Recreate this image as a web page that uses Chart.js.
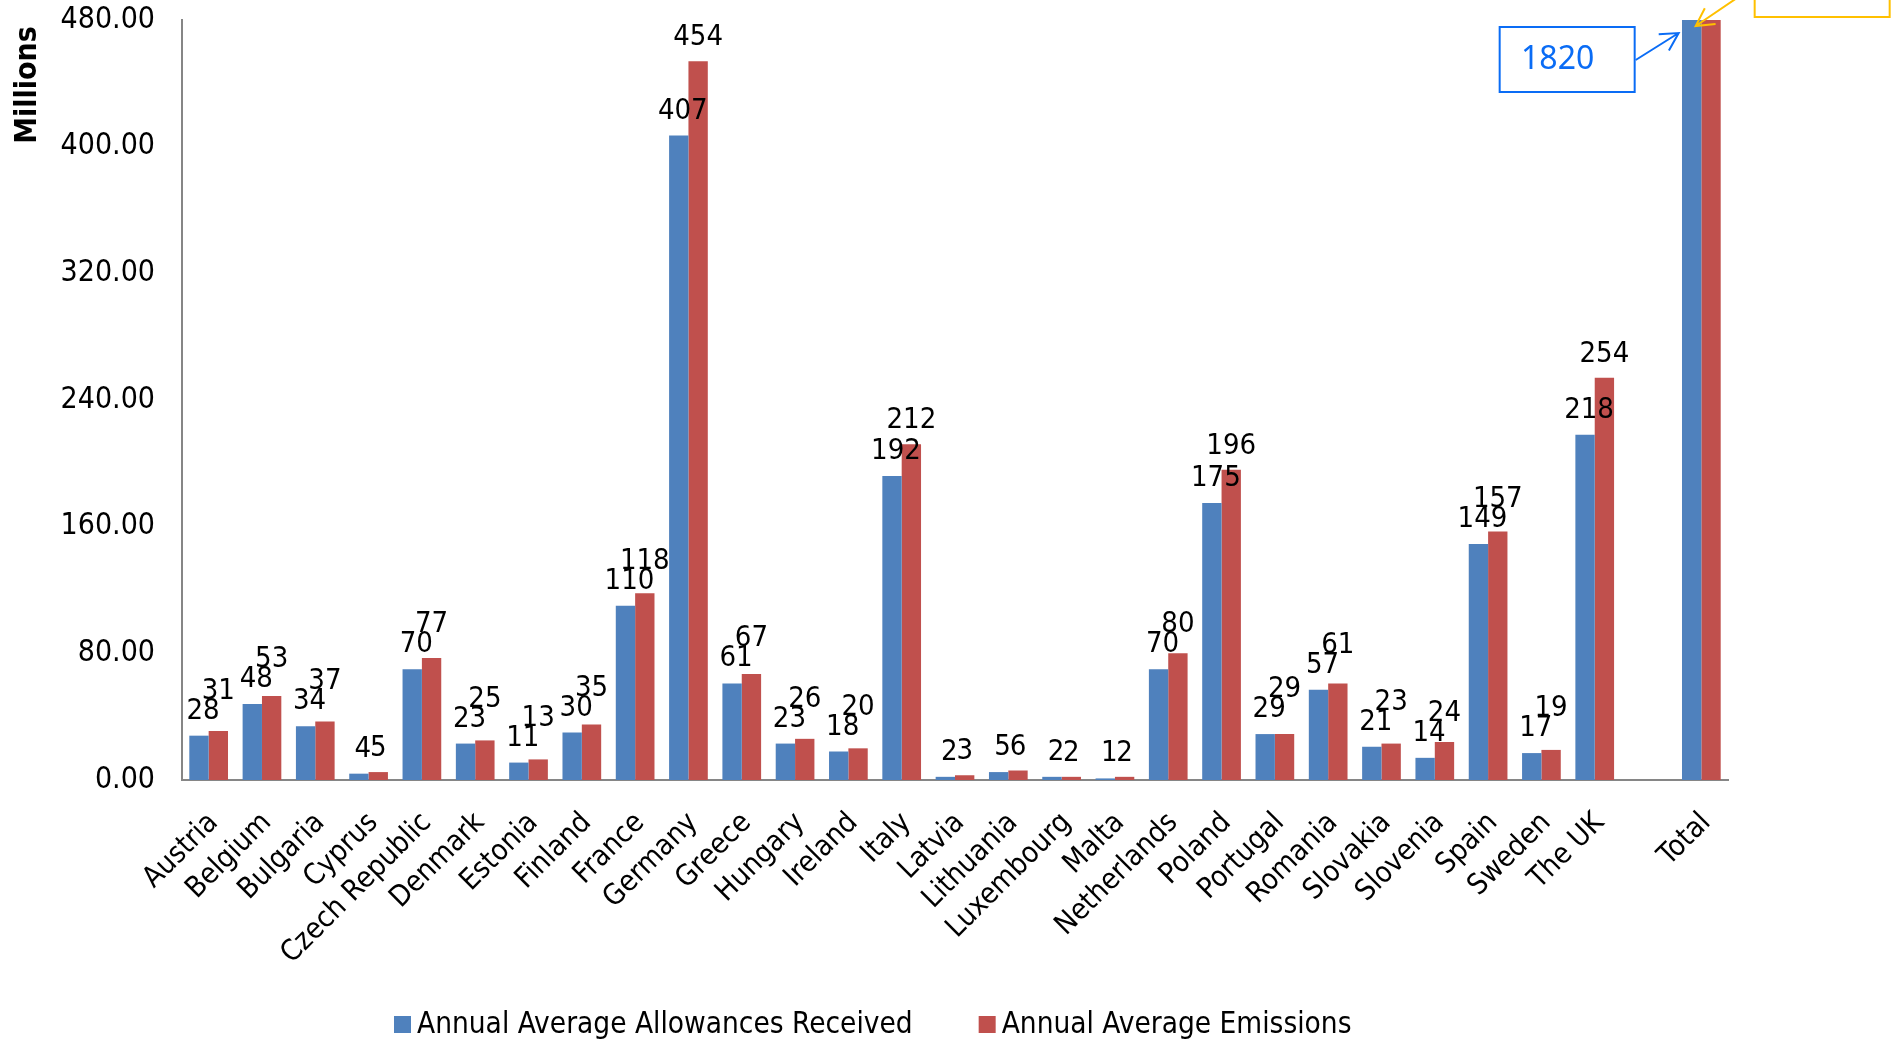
<!DOCTYPE html>
<html>
<head>
<meta charset="utf-8">
<script src="https://cdn.jsdelivr.net/npm/chart.js@4.4.1/dist/chart.umd.min.js"></script>
<style>
  html, body { margin: 0; padding: 0; background: #ffffff; overflow: hidden; }
  canvas { display: block; }
</style>
</head>
<body>
<canvas id="chart" width="1897" height="1039"></canvas>
<script>
// Member states (one empty slot separates the countries from the total)
const countries = ['Austria', 'Belgium', 'Bulgaria', 'Cyprus', 'Czech Republic', 'Denmark', 'Estonia',
  'Finland', 'France', 'Germany', 'Greece', 'Hungary', 'Ireland', 'Italy', 'Latvia', 'Lithuania',
  'Luxembourg', 'Malta', 'Netherlands', 'Poland', 'Portugal', 'Romania', 'Slovakia', 'Slovenia',
  'Spain', 'Sweden', 'The UK', '', 'Total'];

// Annual averages, millions
const allowances = [28, 48, 34, 4, 70, 23, 11, 30, 110, 407, 61, 23, 18, 192, 2, 5, 2, 1, 70, 175,
  29, 57, 21, 14, 149, 17, 218, null, 1820];
const emissions = [31, 53, 37, 5, 77, 25, 13, 35, 118, 454, 67, 26, 20, 212, 3, 6, 2, 2, 80, 196,
  29, 61, 23, 24, 157, 19, 254, null, 2029];

const seriesNames = ['Annual Average Allowances Received', 'Annual Average Emissions'];
const yAxisTitle = 'Millions';
const yMin = 0;
const yMax = 480;
const yStep = 80;

const FONT = '"DejaVu Sans Condensed", "DejaVu Sans", sans-serif';
const BLUE = '#4F81BD';
const RED = '#C0504D';
const AXIS = '#868686';

function arrow(ctx, x1, y1, x2, y2, head) {
  const a = Math.atan2(y2 - y1, x2 - x1);
  ctx.beginPath();
  ctx.moveTo(x1, y1);
  ctx.lineTo(x2, y2);
  ctx.moveTo(x2 - head * Math.cos(a - 0.5), y2 - head * Math.sin(a - 0.5));
  ctx.lineTo(x2, y2);
  ctx.lineTo(x2 - head * Math.cos(a + 0.5), y2 - head * Math.sin(a + 0.5));
  ctx.stroke();
}

const decorations = {
  id: 'decorations',
  afterDatasetsDraw(chart) {
    const ctx = chart.ctx;
    const area = chart.chartArea;
    const yScale = chart.scales.y;
    const metaA = chart.getDatasetMeta(0);
    const metaE = chart.getDatasetMeta(1);

    // value labels above each pair of bars
    ctx.save();
    ctx.font = '29px ' + FONT;
    ctx.fillStyle = '#000000';
    ctx.textAlign = 'center';
    ctx.textBaseline = 'alphabetic';
    allowances.forEach((a, i) => {
      const e = emissions[i];
      if (a == null || a > yScale.max) return;
      const ba = metaA.data[i];
      const be = metaE.data[i];
      const ta = String(a), te = String(e);
      const ax = ba.x + 4, ay = ba.y - 17;
      let ey = be.y - 16;
      const wa = ctx.measureText(ta).width, we = ctx.measureText(te).width;
      const overlap = (ax + wa / 2) - (be.x - we / 2) > 2;
      if (overlap && ey > ay - 20) ey = ay - 20;
      ctx.fillText(ta, ax, ay);
      ctx.fillText(te, be.x, ey);
    });
    ctx.restore();

    // callouts on the total column
    const ti = countries.length - 1;
    const bar = metaA.data[ti];
    const bx = bar.x;
    const top = area.top;
    ctx.save();
    ctx.lineWidth = 2;
    ctx.strokeStyle = '#0A6CF5';
    ctx.strokeRect(bx - 192, top + 7, 135, 65);
    ctx.fillStyle = '#0A6CF5';
    ctx.font = '32px "Noto Sans", sans-serif';
    ctx.textAlign = 'center';
    ctx.textBaseline = 'middle';
    ctx.fillText(String(allowances[ti]), bx - 134, top + 40);
    arrow(ctx, bx - 56, top + 40, bx - 13, top + 13, 20);

    ctx.strokeStyle = '#FFC000';
    ctx.strokeRect(bx + 63, top - 80, 135, 77);
    arrow(ctx, bx + 60, top - 32, bx + 4, top + 6, 20);
    ctx.restore();

    // axis title
    ctx.save();
    ctx.translate(28, 85);
    ctx.rotate(-Math.PI / 2);
    ctx.font = 'bold 30px ' + FONT;
    ctx.fillStyle = '#000000';
    ctx.textAlign = 'center';
    ctx.textBaseline = 'middle';
    ctx.fillText(yAxisTitle, 0, 0);
    ctx.restore();

    // legend
    ctx.save();
    ctx.font = '29.5px ' + FONT;
    ctx.textBaseline = 'middle';
    ctx.textAlign = 'left';
    let lx = 394;
    const ly = 1025;
    chart.data.datasets.forEach(ds => {
      ctx.fillStyle = ds.backgroundColor;
      ctx.fillRect(lx, ly - 9, 17, 17);
      ctx.fillStyle = '#000000';
      ctx.fillText(ds.label, lx + 23, ly);
      lx += 23 + ctx.measureText(ds.label).width + 66;
    });
    ctx.restore();
  }
};

const clipTop = { left: false, right: false, top: 0, bottom: false };

new Chart(document.getElementById('chart'), {
  type: 'bar',
  data: {
    labels: countries,
    datasets: [
      { label: seriesNames[0], data: allowances, backgroundColor: BLUE, clip: clipTop },
      { label: seriesNames[1], data: emissions, backgroundColor: RED, clip: clipTop }
    ]
  },
  options: {
    responsive: false,
    animation: false,
    devicePixelRatio: 1,
    layout: { padding: { top: 20, right: 169, left: 0, bottom: 0 } },
    datasets: { bar: { categoryPercentage: 0.726, barPercentage: 1.0 } },
    plugins: { legend: { display: false }, tooltip: { enabled: false } },
    scales: {
      x: {
        grid: { display: false, drawTicks: false },
        border: { display: true, color: AXIS, width: 2 },
        ticks: {
          autoSkip: false, maxRotation: 45, minRotation: 45, padding: 26, labelOffset: 5,
          color: '#000000', font: { family: FONT, size: 29 }
        },
        afterFit(s) { s.height = 259; s.paddingLeft = 0; s.paddingRight = 0; }
      },
      y: {
        min: yMin, max: yMax,
        grid: { display: false, drawTicks: false },
        border: { display: true, color: AXIS, width: 2 },
        ticks: {
          stepSize: yStep, padding: 27, color: '#000000',
          font: { family: FONT, size: 30 },
          callback: v => v.toFixed(2)
        },
        afterFit(s) { s.width = 182; s.paddingTop = 0; s.paddingBottom = 0; }
      }
    }
  },
  plugins: [decorations]
});
</script>
</body>
</html>
